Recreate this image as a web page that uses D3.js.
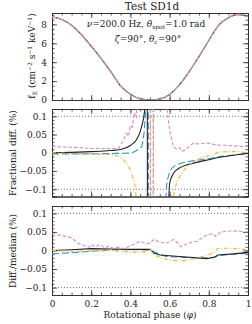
<!DOCTYPE html>
<html>
<head>
<meta charset="utf-8">
<script src="https://cdn.jsdelivr.net/npm/d3@7"></script>
<style>
  body { margin: 0; background: #fff; }
  svg { display: block; }
  text { font-family: "DejaVu Serif", serif; fill: #222; }
</style>
</head>
<body>
<div id="chart"></div>
<script>
// ---- data ----
const fluxPhase = [0, 0.05, 0.1, 0.15, 0.2, 0.25, 0.3, 0.35, 0.4, 0.45, 0.5, 0.55, 0.6, 0.65, 0.7, 0.75, 0.8, 0.85, 0.9, 0.95, 1];
const fluxValues = [8.8, 8.5, 7.9, 6.9, 5.7, 4.4, 3.0, 1.5, 0.6, 0.12, 0.0, 0.1, 0.6, 1.6, 3.0, 4.6, 6.3, 7.9, 8.7, 9.05, 8.8];

// fractional difference (%)
const fracBlackPhase = [0, 0.1, 0.2, 0.3, 0.35, 0.4, 0.43, 0.45, 0.46, 0.47, 0.478, 0.485, 0.488, 0.59, 0.6, 0.62, 0.65, 0.69, 0.75, 0.8, 0.85, 0.9, 0.95, 1];
const fracBlack = [0, 0.001, 0.003, 0.006, 0.009, 0.02, 0.035, 0.058, 0.078, 0.105, 0.16, 0.5, -0.5, -0.2, -0.085, -0.056, -0.042, -0.033, -0.025, -0.019, -0.013, -0.009, -0.005, -0.002];

const fracBluePhase = [0, 0.1, 0.2, 0.3, 0.4, 0.42, 0.44, 0.457, 0.466, 0.474, 0.482, 0.49, 0.494, 0.575, 0.585, 0.6, 0.62, 0.65, 0.69, 0.75, 0.8, 0.85, 0.9, 0.95, 1];
const fracBlue = [-0.003, -0.003, -0.003, -0.002, -0.001, 0.003, 0.009, 0.018, 0.04, 0.085, 0.2, 0.5, -0.5, -0.2, -0.09, -0.055, -0.038, -0.03, -0.025, -0.02, -0.016, -0.011, -0.008, -0.005, -0.003];

const fracOrangePhase = [0, 0.1, 0.2, 0.3, 0.33, 0.35, 0.37, 0.39, 0.41, 0.425, 0.435, 0.45, 0.5, 0.505, 0.515, 0.52, 0.61, 0.62, 0.635, 0.65, 0.687, 0.72, 0.755, 0.82, 0.857, 0.925, 1];
const fracOrange = [0, -0.002, -0.003, -0.005, -0.009, -0.014, -0.023, -0.037, -0.064, -0.096, -0.2, -0.5, -0.5, 0.5, 0.5, -0.5, -0.25, -0.12, -0.085, -0.068, -0.04, -0.026, -0.016, -0.005, 0.002, 0.003, 0];

const fracPinkPhase = [0, 0.1, 0.2, 0.3, 0.34, 0.36, 0.38, 0.39, 0.4, 0.41, 0.42, 0.43, 0.44, 0.45, 0.5, 0.503, 0.515, 0.518, 0.575, 0.585, 0.6, 0.62, 0.635, 0.65, 0.665, 0.68, 0.7, 0.72, 0.75, 0.79, 0.84, 0.9, 0.95, 1];
const fracPink = [0.017, 0.015, 0.012, 0.011, 0.012, 0.03, 0.053, 0.045, 0.075, 0.07, 0.11, 0.095, 0.2, 0.5, 0.5, -0.5, -0.5, 0.5, 0.5, 0.13, 0.06, 0.017, 0.01, 0.014, 0.004, 0.008, 0.017, 0.026, 0.024, 0.027, 0.021, 0.02, 0.018, 0.017];

// difference / median (%)
const medBlackPhase = [0, 0.1, 0.2, 0.3, 0.4, 0.5, 0.52, 0.55, 0.65, 0.74, 0.79, 0.83, 0.845, 0.925, 1];
const medBlack = [0, 0.002, 0.005, 0.004, 0.003, 0.003, -0.007, -0.012, -0.016, -0.02, -0.022, -0.018, -0.012, -0.009, -0.005];

const medBluePhase = [0, 0.1, 0.2, 0.33, 0.45, 0.5, 0.58, 0.69, 0.79, 0.835, 0.85, 0.925, 1];
const medBlue = [-0.009, -0.006, -0.002, 0.002, 0.002, 0.001, -0.016, -0.019, -0.02, -0.017, -0.014, -0.01, -0.007];

const medOrangePhase = [0, 0.1, 0.2, 0.3, 0.42, 0.48, 0.5, 0.52, 0.57, 0.62, 0.67, 0.72, 0.77, 0.8, 0.83, 0.845, 0.925, 1];
const medOrange = [0, -0.002, -0.001, 0, -0.005, -0.003, 0.004, -0.012, -0.022, -0.027, -0.028, -0.023, -0.016, -0.012, -0.004, 0.006, 0.006, 0.002];

const medPinkPhase = [0, 0.05, 0.1, 0.13, 0.16, 0.19, 0.2, 0.22, 0.245, 0.27, 0.29, 0.31, 0.34, 0.365, 0.39, 0.415, 0.45, 0.48, 0.5, 0.52, 0.55, 0.585, 0.62, 0.66, 0.695, 0.74, 0.79, 0.82, 0.835, 0.86, 0.925, 1];
const medPink = [0.046, 0.04, 0.034, 0.02, 0.014, 0.009, 0.016, 0.01, 0.016, 0.007, 0.012, 0.006, 0.009, 0.005, 0.01, 0.016, 0.025, 0.018, 0.02, 0.03, 0.022, 0.02, 0.03, 0.01, 0.02, 0.025, 0.042, 0.045, 0.038, 0.05, 0.053, 0.05];

const xTicks = [0, 0.2, 0.4, 0.6, 0.8, 1];
const fluxTicks = [0, 2, 4, 6, 8];
const pctTicks = [-0.1, -0.05, 0, 0.05, 0.1];

// ---- styles ----
const styles = {
  black: { color: "#222", dash: null },
  blue: { color: "#2e95cf", dash: "7,3" },
  orange: { color: "#f3b22a", dash: "4,2,1,2" },
  pink: { color: "#de88bf", dash: "3.5,2" },
};

const W = 252, H = 324;
const left = 52, right = 248;

const svg = d3.select("#chart").append("svg")
  .attr("width", W).attr("height", H);

const x = d3.scaleLinear().domain([0, 1]).range([left, right]);

function fmtPct(d) {
  if (d === 0) return "0";
  return (d < 0 ? "\u2212" : "") + Math.abs(d);
}

function panel(id, top, bottom, yDomain, majors, minorStep, yFmt, showX) {
  const y = d3.scaleLinear().domain(yDomain).range([bottom, top]);
  const g = svg.append("g");

  g.append("clipPath").attr("id", id)
    .append("rect").attr("x", left).attr("y", top)
    .attr("width", right - left).attr("height", bottom - top);

  const minorY = d3.range(Math.ceil(yDomain[0] / minorStep), Math.floor(yDomain[1] / minorStep) + 1)
    .map(i => +(i * minorStep).toFixed(4));
  const minorX = d3.range(0, 21).map(i => i * 0.05);

  // minor ticks, all four sides
  g.append("g").attr("transform", `translate(0,${bottom})`)
    .call(d3.axisBottom(x).tickValues(minorX).tickSize(-2.5).tickFormat(""));
  g.append("g").attr("transform", `translate(0,${top})`)
    .call(d3.axisTop(x).tickValues(minorX).tickSize(-2.5).tickFormat(""));
  g.append("g").attr("transform", `translate(${left},0)`)
    .call(d3.axisLeft(y).tickValues(minorY).tickSize(-2.5).tickFormat(""));
  g.append("g").attr("transform", `translate(${right},0)`)
    .call(d3.axisRight(y).tickValues(minorY).tickSize(-2.5).tickFormat(""));

  // major ticks
  g.append("g").attr("transform", `translate(0,${bottom})`)
    .call(d3.axisBottom(x).tickValues(xTicks).tickSize(-5).tickPadding(6)
      .tickFormat(showX ? (d => String(d)) : ""));
  g.append("g").attr("transform", `translate(0,${top})`)
    .call(d3.axisTop(x).tickValues(xTicks).tickSize(-5).tickFormat(""));
  g.append("g").attr("transform", `translate(${left},0)`)
    .call(d3.axisLeft(y).tickValues(majors).tickSize(-5).tickPadding(5).tickFormat(yFmt));
  g.append("g").attr("transform", `translate(${right},0)`)
    .call(d3.axisRight(y).tickValues(majors).tickSize(-5).tickFormat(""));

  g.selectAll(".domain").attr("stroke", "#333").attr("stroke-width", 1);
  g.selectAll(".tick line").attr("stroke", "#333").attr("stroke-width", 0.8);
  g.selectAll(".tick text").style("font-family", '"DejaVu Serif", serif')
    .style("font-size", "9px").attr("fill", "#222");

  const plot = g.append("g").attr("clip-path", `url(#${id})`);
  return { y, plot };
}

function drawSeries(p, phases, values, style, curve) {
  const line = d3.line()
    .x((d, i) => x(phases[i]))
    .y(d => p.y(d))
    .curve(curve || d3.curveMonotoneX);
  p.plot.append("path")
    .attr("d", line(values))
    .attr("fill", "none")
    .attr("stroke", style.color)
    .attr("stroke-width", 1.1)
    .attr("stroke-dasharray", style.dash);
}

function dotted(p, v) {
  p.plot.append("line")
    .attr("x1", left).attr("x2", right)
    .attr("y1", p.y(v)).attr("y2", p.y(v))
    .attr("stroke", "#555").attr("stroke-width", 0.8)
    .attr("stroke-dasharray", "1,2");
}

// ---- panel 1: flux ----
const p1 = panel("c1", 13, 100, [0, 9.2], fluxTicks, 0.5, d => String(d), false);
drawSeries(p1, fluxPhase, fluxValues, styles.black);
drawSeries(p1, fluxPhase, fluxValues, styles.blue);
drawSeries(p1, fluxPhase, fluxValues, styles.orange);
drawSeries(p1, fluxPhase, fluxValues, styles.pink);

// ---- panel 2: fractional difference ----
const p2 = panel("c2", 109, 196.5, [-0.12, 0.12], pctTicks, 0.01, fmtPct, false);
dotted(p2, 0.1); dotted(p2, -0.1);
drawSeries(p2, fracBluePhase, fracBlue, styles.blue);
drawSeries(p2, fracBlackPhase, fracBlack, styles.black);
drawSeries(p2, fracOrangePhase, fracOrange, styles.orange);
drawSeries(p2, fracPinkPhase, fracPink, styles.pink, d3.curveLinear);

// ---- panel 3: difference / median ----
const p3 = panel("c3", 206, 295, [-0.12, 0.12], pctTicks, 0.01, fmtPct, true);
dotted(p3, 0.1); dotted(p3, -0.1);
drawSeries(p3, medBluePhase, medBlue, styles.blue, d3.curveLinear);
drawSeries(p3, medBlackPhase, medBlack, styles.black, d3.curveLinear);
drawSeries(p3, medOrangePhase, medOrange, styles.orange, d3.curveLinear);
drawSeries(p3, medPinkPhase, medPink, styles.pink, d3.curveLinear);

// ---- text ----
svg.append("text").attr("x", 152).attr("y", 10).attr("text-anchor", "middle")
  .style("font-size", "10.5px").text("Test SD1d");

const a1 = svg.append("text").attr("x", 146).attr("y", 27).attr("text-anchor", "middle")
  .style("font-size", "9px");
a1.append("tspan").style("font-style", "italic").text("\u03bd");
a1.append("tspan").text("=200.0 Hz, ");
a1.append("tspan").style("font-style", "italic").text("\u03b8");
a1.append("tspan").attr("dy", 2).style("font-size", "6px").text("spot");
a1.append("tspan").attr("dy", -2).text("=1.0 rad");

const a2 = svg.append("text").attr("x", 148).attr("y", 42).attr("text-anchor", "middle")
  .style("font-size", "9px");
a2.append("tspan").style("font-style", "italic").text("\u03b6");
a2.append("tspan").text("=90\u00b0, ");
a2.append("tspan").style("font-style", "italic").text("\u03b8");
a2.append("tspan").attr("dy", 2).style("font-size", "6px").text("c");
a2.append("tspan").attr("dy", -2).text("=90\u00b0");

// y labels
const l1 = svg.append("text").attr("transform", "translate(35,56) rotate(-90)")
  .attr("text-anchor", "middle").style("font-size", "9px");
l1.append("tspan").text("f");
l1.append("tspan").attr("dy", 2).style("font-size", "6px").text("E");
l1.append("tspan").attr("dy", -2).text(" (cm");
l1.append("tspan").attr("dy", -3).style("font-size", "6px").text("\u22122");
l1.append("tspan").attr("dy", 3).text(" s");
l1.append("tspan").attr("dy", -3).style("font-size", "6px").text("\u22121");
l1.append("tspan").attr("dy", 3).text(" keV");
l1.append("tspan").attr("dy", -3).style("font-size", "6px").text("\u22121");
l1.append("tspan").attr("dy", 3).text(")");

svg.append("text").attr("transform", "translate(16,153) rotate(-90)")
  .attr("text-anchor", "middle").style("font-size", "9px").text("Fractional diff. (%)");

svg.append("text").attr("transform", "translate(16,251) rotate(-90)")
  .attr("text-anchor", "middle").style("font-size", "9px").text("Diff./median (%)");

const xl = svg.append("text").attr("x", 150).attr("y", 318).attr("text-anchor", "middle")
  .style("font-size", "9px");
xl.append("tspan").text("Rotational phase (");
xl.append("tspan").style("font-style", "italic").text("\u03c6");
xl.append("tspan").text(")");
</script>
</body>
</html>
